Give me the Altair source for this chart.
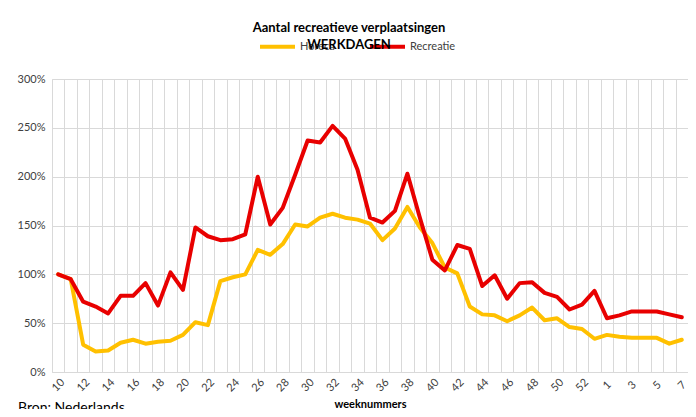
import json
import altair as alt
import pandas as pd

weeks = ["10", "11", "12", "13", "14", "15", "16", "17", "18", "19",
         "20", "21", "22", "23", "24", "25", "26", "27", "28", "29",
         "30", "31", "32", "33", "34", "35", "36", "37", "38", "39",
         "40", "41", "42", "43", "44", "45", "46", "47", "48", "49",
         "50", "51", "52", "53", "1", "2", "3", "4", "5", "6", "7"]

horeca = [100, 95, 28, 21, 22, 30, 33, 29, 31, 32,
          38, 51, 48, 93, 97, 100, 125, 120, 131, 151,
          149, 158, 162, 158, 156, 152, 135, 147, 169, 148,
          132, 107, 101, 67, 59, 58, 52, 58, 66, 53,
          55, 46, 44, 34, 38, 36, 35, 35, 35, 29, 33]

recreatie = [100, 95, 72, 67, 60, 78, 78, 91, 68, 102,
             84, 148, 139, 135, 136, 141, 200, 151, 168, 202,
             237, 235, 252, 239, 207, 158, 153, 165, 203, 158,
             115, 104, 130, 126, 88, 99, 75, 91, 92, 81,
             77, 64, 69, 83, 55, 58, 62, 62, 62, 59, 56]

series = ["Horeca", "Recreatie"]
colors = ["#FFC000", "#E80000"]
y_ticks = [0, 50, 100, 150, 200, 250, 300]
title_text = "Aantal recreatieve verplaatsingen"
subtitle_text = "WERKDAGEN"
x_title = "weeknummers"
source_text = "Bron: Nederlands"

df = pd.DataFrame({
    "week": weeks * 2,
    "serie": [series[0]] * len(weeks) + [series[1]] * len(weeks),
    "pct": [v / 100 for v in horeca + recreatie],
})

shown = weeks[::2]
label_expr = "indexof(%s, datum.value) >= 0 ? datum.label : ''" % json.dumps(shown)

FONT = "Lato"
GRID = "#d9d9d9"

lines = alt.Chart(df).mark_line(strokeWidth=4, strokeJoin="round", strokeCap="round").encode(
    x=alt.X("week:N", sort=weeks, bandPosition=0.5,
            scale=alt.Scale(type="band", paddingInner=0, paddingOuter=0),
            axis=alt.Axis(title=x_title, tickBand="extent", grid=True, gridColor=GRID,
                          ticks=False, domain=False, labelAngle=-45, labelAlign="center",
                          labelBaseline="middle", labelPadding=13, labelExpr=label_expr,
                          labelOverlap=False, labelFontSize=11, labelColor="#404040",
                          labelFont=FONT, titleFont=FONT, titleFontSize=11,
                          titleFontWeight="bold", titleColor="#000000", titlePadding=5)),
    y=alt.Y("pct:Q", scale=alt.Scale(domain=[0, 3], nice=False),
            axis=alt.Axis(values=[v / 100 for v in y_ticks], format=".0%", title=None,
                          ticks=False, domain=False, labelPadding=7, gridColor=GRID,
                          labelFontSize=11, labelColor="#404040", labelFont=FONT)),
    color=alt.Color("serie:N", sort=series,
                    scale=alt.Scale(domain=series, range=colors),
                    legend=alt.Legend(title=None, orient="none", legendX=206, legendY=-52,
                                      direction="horizontal", symbolType="stroke",
                                      symbolStrokeWidth=4, symbolSize=1225, padding=0,
                                      labelFontSize=11, labelColor="#404040", labelFont=FONT,
                                      labelOffset=3, columnPadding=27)),
)

source = alt.Chart(pd.DataFrame({"t": [source_text]})).mark_text(
    align="left", baseline="top", font=FONT, fontSize=14, color="#000000"
).encode(text="t:N", x=alt.value(-34), y=alt.value(322))

chart = alt.layer(lines, source).properties(
    width=636, height=293,
    title=alt.TitleParams(text=title_text, subtitle=subtitle_text, anchor="middle", dx=-21,
                          font=FONT, fontSize=13, fontWeight="bold", color="#000000",
                          subtitleFont=FONT, subtitleFontSize=13, subtitleFontWeight="bold",
                          subtitleColor="#000000", subtitlePadding=4, offset=-25),
    autosize=alt.AutoSizeParams(type="none"),
    padding={"left": 44, "top": 71, "right": 0, "bottom": 37},
).configure_view(stroke=GRID, strokeWidth=1).configure(background="white")

chart.save("out.html", embed_options={"renderer": "svg", "actions": False})
